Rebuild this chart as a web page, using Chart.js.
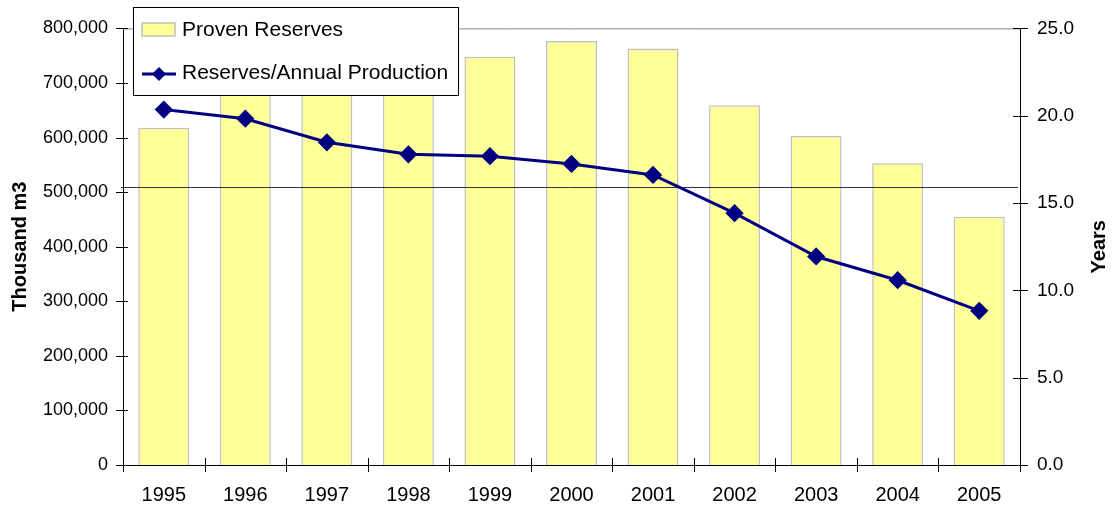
<!DOCTYPE html>
<html>
<head>
<meta charset="utf-8">
<title>Proven Reserves</title>
<script src="https://cdn.jsdelivr.net/npm/chart.js@4.4.1/dist/chart.umd.min.js"></script>
<style>
  html, body { margin: 0; padding: 0; background: #fff; }
  #wrap { width: 1112px; height: 510px; }
</style>
</head>
<body>
<div id="wrap"><canvas id="reserves-chart"></canvas></div>
<script>
const years = ['1995', '1996', '1997', '1998', '1999', '2000', '2001', '2002', '2003', '2004', '2005'];
const provenReserves = [618000, 686000, 684000, 687000, 748000, 777000, 763000, 659000, 603000, 553000, 455000];
const reservesToProduction = [20.35, 19.83, 18.48, 17.79, 17.68, 17.24, 16.61, 14.42, 11.94, 10.58, 8.83];
const markerLevel = 509000;

const FONT = '"Liberation Sans", Arial, Helvetica, sans-serif';
const BAR_FILL = '#FFFF99';
const BAR_EDGE = '#C0C0C0';
const LINE_COLOR = '#000080';

// axis ticks crossing the axis lines, plus the gray top edge
const axisTicks = {
  id: 'axisTicks',
  beforeDatasetsDraw(chart) {
    const { ctx, chartArea, scales } = chart;
    ctx.save();
    ctx.strokeStyle = '#888';
    ctx.lineWidth = 1;
    ctx.beginPath();
    ctx.moveTo(chartArea.left, chartArea.top + 0.5);
    ctx.lineTo(chartArea.right, chartArea.top + 0.5);
    ctx.stroke();

    ctx.strokeStyle = '#000';
    ctx.beginPath();
    scales.y.ticks.forEach(t => {
      const py = Math.round(scales.y.getPixelForValue(t.value)) + 0.5;
      ctx.moveTo(chartArea.left - 7, py);
      ctx.lineTo(chartArea.left + 5, py);
    });
    scales.y1.ticks.forEach(t => {
      const py = Math.round(scales.y1.getPixelForValue(t.value)) + 0.5;
      ctx.moveTo(chartArea.right - 7, py);
      ctx.lineTo(chartArea.right + 8, py);
    });
    const step = (chartArea.right - chartArea.left) / years.length;
    for (let i = 0; i <= years.length; i++) {
      const px = Math.round(chartArea.left + i * step) + 0.5;
      ctx.moveTo(px, chartArea.bottom - 7);
      ctx.lineTo(px, chartArea.bottom + 7);
    }
    ctx.stroke();
    ctx.restore();
  },
  afterDatasetDraw(chart, args) {
    // thin rule across the bars, under the ratio line
    if (args.index !== 0) return;
    const { ctx, chartArea, scales } = chart;
    const py = Math.round(scales.y.getPixelForValue(markerLevel)) + 0.5;
    ctx.save();
    ctx.strokeStyle = '#333';
    ctx.lineWidth = 1;
    ctx.beginPath();
    ctx.moveTo(chartArea.left - 2, py);
    ctx.lineTo(chartArea.right - 2, py);
    ctx.stroke();
    ctx.restore();
  }
};

function diamond(ctx, x, y, r) {
  ctx.beginPath();
  ctx.moveTo(x, y - r);
  ctx.lineTo(x + r, y);
  ctx.lineTo(x, y + r);
  ctx.lineTo(x - r, y);
  ctx.closePath();
  ctx.fill();
}

// boxed legend over the plot, and the right axis title read bottom-up
const boxLegend = {
  id: 'boxLegend',
  afterDraw(chart) {
    const { ctx, chartArea } = chart;
    const x0 = chartArea.left + 10;
    const y0 = 7;
    ctx.save();
    ctx.fillStyle = '#fff';
    ctx.fillRect(x0, y0, 325, 88);
    ctx.strokeStyle = '#000';
    ctx.lineWidth = 1;
    ctx.strokeRect(x0 + 0.5, y0 + 0.5, 325, 88);

    ctx.fillStyle = BAR_FILL;
    ctx.fillRect(x0 + 9, y0 + 16, 33, 13);
    ctx.strokeStyle = BAR_EDGE;
    ctx.lineWidth = 1.5;
    ctx.strokeRect(x0 + 9, y0 + 16, 33, 13);

    ctx.strokeStyle = LINE_COLOR;
    ctx.lineWidth = 3;
    ctx.beginPath();
    ctx.moveTo(x0 + 9, y0 + 67);
    ctx.lineTo(x0 + 43, y0 + 67);
    ctx.stroke();
    ctx.fillStyle = LINE_COLOR;
    diamond(ctx, x0 + 26, y0 + 67, 7);

    ctx.fillStyle = '#000';
    ctx.font = '21px ' + FONT;
    ctx.textBaseline = 'middle';
    ctx.fillText('Proven Reserves', x0 + 49, y0 + 23);
    ctx.fillText('Reserves/Annual Production', x0 + 49, y0 + 66);

    ctx.font = 'bold 20px ' + FONT;
    ctx.textAlign = 'center';
    ctx.translate(chart.width - 13, (chartArea.top + chartArea.bottom) / 2);
    ctx.rotate(-Math.PI / 2);
    ctx.fillText('Years', 0, 0);
    ctx.restore();
  }
};

const ctx = document.getElementById('reserves-chart').getContext('2d');

new Chart(ctx, {
  type: 'bar',
  data: {
    labels: years,
    datasets: [
      {
        type: 'bar',
        label: 'Proven Reserves',
        data: provenReserves,
        yAxisID: 'y',
        backgroundColor: BAR_FILL,
        borderColor: BAR_EDGE,
        borderWidth: 1.5,
        barPercentage: 1,
        categoryPercentage: 0.625,
        order: 1
      },
      {
        type: 'line',
        label: 'Reserves/Annual Production',
        data: reservesToProduction,
        yAxisID: 'y1',
        borderColor: LINE_COLOR,
        backgroundColor: LINE_COLOR,
        borderWidth: 3,
        pointStyle: 'rectRot',
        pointRadius: 7,
        pointHoverRadius: 7,
        tension: 0,
        order: 0
      }
    ]
  },
  options: {
    responsive: true,
    maintainAspectRatio: false,
    animation: false,
    layout: { padding: { top: 28, left: 0, right: 0, bottom: 0 } },
    plugins: {
      legend: { display: false },
      tooltip: { enabled: false }
    },
    scales: {
      x: {
        grid: { display: false, drawTicks: false },
        border: { color: '#000', width: 1 },
        ticks: { color: '#000', font: { family: FONT, size: 20 }, padding: 18, maxRotation: 0 },
        afterFit(s) { s.height = 45; }
      },
      y: {
        position: 'left',
        min: 0,
        max: 800000,
        grid: { display: false, drawTicks: false },
        border: { color: '#000', width: 1 },
        ticks: {
          stepSize: 100000,
          color: '#000',
          padding: 15,
          font: { family: FONT, size: 18 },
          callback: v => v.toLocaleString('en-US')
        },
        title: {
          display: true,
          text: 'Thousand m3',
          color: '#000',
          font: { family: FONT, size: 20, weight: 'bold' },
          padding: { top: 8, bottom: 0 }
        },
        afterFit(s) { s.width = 123; }
      },
      y1: {
        position: 'right',
        min: 0,
        max: 25,
        grid: { display: false, drawTicks: false },
        border: { color: '#000', width: 1 },
        ticks: {
          stepSize: 5,
          color: '#000',
          padding: 17,
          font: { family: FONT, size: 19 },
          callback: v => v.toFixed(1)
        },
        afterFit(s) { s.width = 92; }
      }
    }
  },
  plugins: [axisTicks, boxLegend]
});
</script>
</body>
</html>
